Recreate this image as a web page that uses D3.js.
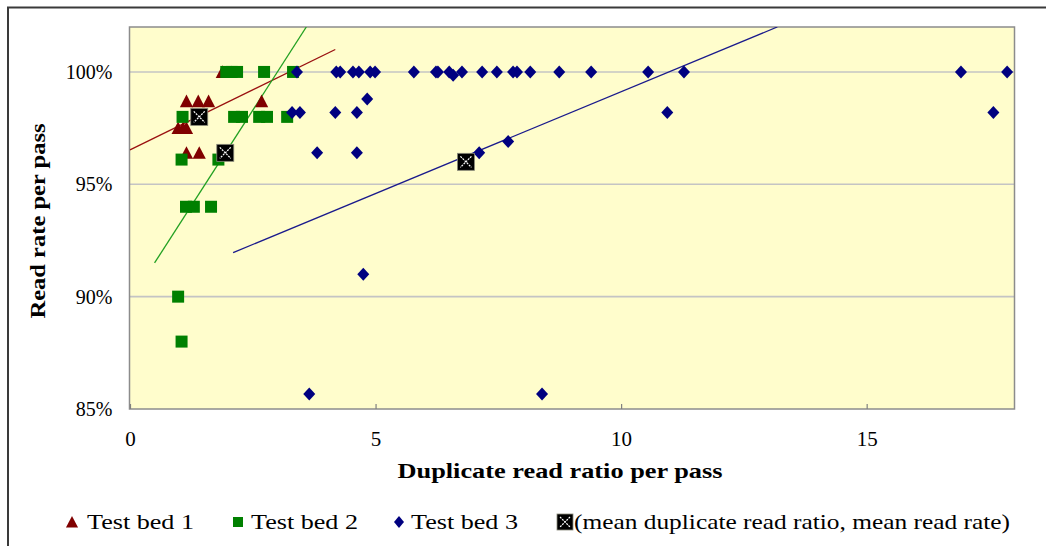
<!DOCTYPE html>
<html>
<head>
<meta charset="utf-8">
<script src="https://cdn.jsdelivr.net/npm/d3@7"></script>
<style>
  html, body { margin: 0; padding: 0; background: #ffffff; }
  svg { display: block; }
  svg text { font-family: 'Liberation Serif', 'Times New Roman', serif; }
</style>
</head>
<body>
<svg id="chart" width="1046" height="546"></svg>
<script>
// Duplicate read ratio (x) vs read rate in % (y) for three test beds
const bed1X = [1.88, 1.15, 1.39, 1.60, 2.68, 0.98, 1.08, 1.15, 1.15, 1.41];
const bed1Y = [100, 98.7, 98.7, 98.7, 98.7, 97.5, 97.5, 97.5, 96.4, 96.4];

const bed2X = [1.96, 2.07, 2.18, 2.73, 3.32, 1.07, 2.12, 2.28, 2.63, 2.79, 3.20, 1.05, 1.80, 1.14, 1.30, 1.65, 0.98, 1.05];
const bed2Y = [100, 100, 100, 100, 100, 98.0, 98.0, 98.0, 98.0, 98.0, 98.0, 96.1, 96.1, 94.0, 94.0, 94.0, 90.0, 88.0];

const bed3X = [3.40, 4.20, 4.28, 4.54, 4.66, 4.89, 4.99, 5.78, 6.23, 6.27, 6.50, 6.58, 6.76, 7.17, 7.47, 7.80, 7.88, 8.15, 8.74, 9.39, 10.55, 11.28, 16.92, 17.86,
               3.30, 3.46, 4.18, 4.62, 10.94, 17.58,
               4.83,
               3.81, 4.62, 7.11,
               7.70,
               4.75,
               3.65, 8.39];
const bed3Y = [100, 100, 100, 100, 100, 100, 100, 100, 100, 100, 100, 99.85, 100, 100, 100, 100, 100, 100, 100, 100, 100, 100, 100, 100,
               98.2, 98.2, 98.2, 98.2, 98.2, 98.2,
               98.8,
               96.4, 96.4, 96.4,
               96.9,
               91.0,
               85.67, 85.67];

// (mean duplicate read ratio, mean read rate) per test bed
const meanX = [1.41, 1.94, 6.84];
const meanY = [98.0, 96.4, 96.0];

// Linear trend line end points per test bed
const trend1 = [[0, 96.53], [4.18, 101.0]];
const trend2 = [[0.5, 91.5], [3.59, 102]];
const trend3 = [[2.1, 91.96], [13.18, 102]];

const xTicks = [0, 5, 10, 15];
const yTicks = [85, 90, 95, 100];
const legendLabels = ["Test bed 1", "Test bed 2", "Test bed 3", "(mean duplicate read ratio, mean read rate)"];
const xTitle = "Duplicate read ratio per pass";
const yTitle = "Read rate per pass";

const serif = "'Liberation Serif', 'Times New Roman', serif";
const colors = { bed1: "#800000", bed2: "#008000", bed3: "#000080" };
const lineColors = ["#9a1010", "#22a022", "#1a1a8c"];

const svg = d3.select("#chart");
const plot = { left: 129.5, right: 1014.5, top: 27, bottom: 409 };

const x = d3.scaleLinear().domain([0, 18]).range([130, 1014]);
const y = d3.scaleLinear().domain([85, 102]).range([409, 27]);

// outer chart frame (top and left edges visible)
svg.append("path")
  .attr("d", "M8,546 L8,7.5 L1046,7.5")
  .attr("fill", "none").attr("stroke", "#3a3a3a").attr("stroke-width", 2);

// plot area
svg.append("rect")
  .attr("x", plot.left).attr("y", plot.top)
  .attr("width", plot.right - plot.left).attr("height", plot.bottom - plot.top)
  .attr("fill", "#FFFDCC");

// horizontal gridlines
svg.append("g").selectAll("line")
  .data(yTicks.filter(d => d > 85))
  .join("line")
  .attr("x1", plot.left).attr("x2", plot.right)
  .attr("y1", d => y(d)).attr("y2", d => y(d))
  .attr("stroke", "#c4c4c4").attr("stroke-width", 1.6);

// plot border
svg.append("rect")
  .attr("x", plot.left).attr("y", plot.top)
  .attr("width", plot.right - plot.left).attr("height", plot.bottom - plot.top)
  .attr("fill", "none").attr("stroke", "#8c8c8c").attr("stroke-width", 1.5);

// x axis
const xAxis = svg.append("g")
  .attr("transform", `translate(0,${plot.bottom})`)
  .call(d3.axisBottom(x).tickValues(xTicks).tickSize(-5).tickPadding(18).tickFormat(d3.format("d")));
xAxis.attr("font-family", null);
xAxis.select(".domain").remove();
xAxis.selectAll(".tick line").attr("stroke", "#808080").attr("stroke-width", 1.2);
xAxis.selectAll(".tick text")
  .style("font-family", serif).style("font-size", "21px").attr("fill", "#000")
  .attr("dy", "0.9em");

// y axis
const yAxis = svg.append("g")
  .attr("transform", `translate(${plot.left},0)`)
  .call(d3.axisLeft(y).tickValues(yTicks).tickSize(0).tickPadding(17).tickFormat(d => d + "%"));
yAxis.attr("font-family", null);
yAxis.select(".domain").remove();
yAxis.selectAll(".tick text")
  .style("font-family", serif).style("font-size", "20px").attr("fill", "#000");

// axis titles
svg.append("text")
  .attr("x", 560).attr("y", 478)
  .attr("text-anchor", "middle")
  .style("font-family", serif).style("font-size", "22px").style("font-weight", "bold")
  .attr("textLength", 325).attr("lengthAdjust", "spacingAndGlyphs")
  .text(xTitle);

svg.append("text")
  .attr("transform", "translate(45,221) rotate(-90)")
  .attr("text-anchor", "middle")
  .style("font-family", serif).style("font-size", "22px").style("font-weight", "bold")
  .attr("textLength", 195).attr("lengthAdjust", "spacingAndGlyphs")
  .text(yTitle);

// clip for trend lines
svg.append("clipPath").attr("id", "plotClip")
  .append("rect")
  .attr("x", plot.left).attr("y", plot.top)
  .attr("width", plot.right - plot.left).attr("height", plot.bottom - plot.top);

const line = d3.line().x(d => x(d[0])).y(d => y(d[1]));
const trendGroup = svg.append("g").attr("clip-path", "url(#plotClip)");
[trend1, trend2, trend3].forEach((t, i) => {
  trendGroup.append("path")
    .attr("d", line(t))
    .attr("fill", "none")
    .attr("stroke", lineColors[i])
    .attr("stroke-width", 1.3);
});

// marker shapes
const tri = s => `M0,${-s * 0.55}L${s * 0.55},${s * 0.5}L${-s * 0.55},${s * 0.5}Z`;
const sq = s => `M${-s / 2},${-s / 2}h${s}v${s}h${-s}Z`;
const dia = (w, h) => `M0,${-h / 2}L${w / 2},0L0,${h / 2}L${-w / 2},0Z`;

const zip = (xs, ys) => xs.map((v, i) => [v, ys[i]]);

svg.append("g").selectAll("path")
  .data(zip(bed1X, bed1Y)).join("path")
  .attr("d", tri(12))
  .attr("transform", d => `translate(${x(d[0])},${y(d[1])})`)
  .attr("fill", colors.bed1);

svg.append("g").selectAll("path")
  .data(zip(bed2X, bed2Y)).join("path")
  .attr("d", sq(12))
  .attr("transform", d => `translate(${x(d[0])},${y(d[1])})`)
  .attr("fill", colors.bed2);

svg.append("g").selectAll("path")
  .data(zip(bed3X, bed3Y)).join("path")
  .attr("d", dia(12, 13))
  .attr("transform", d => `translate(${x(d[0])},${y(d[1])})`)
  .attr("fill", colors.bed3);

// mean marker: black box with a white cross
function meanMarker(g, size) {
  const h = size / 2, c = h - 3;
  g.append("rect").attr("x", -h).attr("y", -h).attr("width", size).attr("height", size)
    .attr("fill", "#000").attr("stroke", "#8a8a7a").attr("stroke-width", 0.8);
  g.append("path").attr("d", `M${-c},${-c}L${c},${c}M${c},${-c}L${-c},${c}`)
    .attr("stroke", "#fff").attr("stroke-width", 1.2).attr("stroke-dasharray", "2,1");
}
zip(meanX, meanY).forEach(d => {
  const g = svg.append("g").attr("transform", `translate(${x(d[0])},${y(d[1])})`);
  meanMarker(g, 17);
});

// legend
const legendY = 522;
const legendItems = [
  { mx: 72, tx: 87, w: 107, draw: g => g.append("path").attr("d", tri(11)).attr("fill", colors.bed1) },
  { mx: 238, tx: 251, w: 107, draw: g => g.append("path").attr("d", sq(10)).attr("fill", colors.bed2) },
  { mx: 399, tx: 411, w: 107, draw: g => g.append("path").attr("d", dia(10, 12)).attr("fill", colors.bed3) },
  { mx: 565, tx: 574, w: 436, draw: g => meanMarker(g, 16) }
];
const legend = svg.append("g");
legendItems.forEach((it, i) => {
  const g = legend.append("g").attr("transform", `translate(${it.mx},${legendY})`);
  it.draw(g);
  legend.append("text")
    .attr("x", it.tx).attr("y", legendY + 7)
    .style("font-family", serif).style("font-size", "21px")
    .attr("textLength", it.w).attr("lengthAdjust", "spacingAndGlyphs")
    .text(legendLabels[i]);
});
</script>
</body>
</html>
